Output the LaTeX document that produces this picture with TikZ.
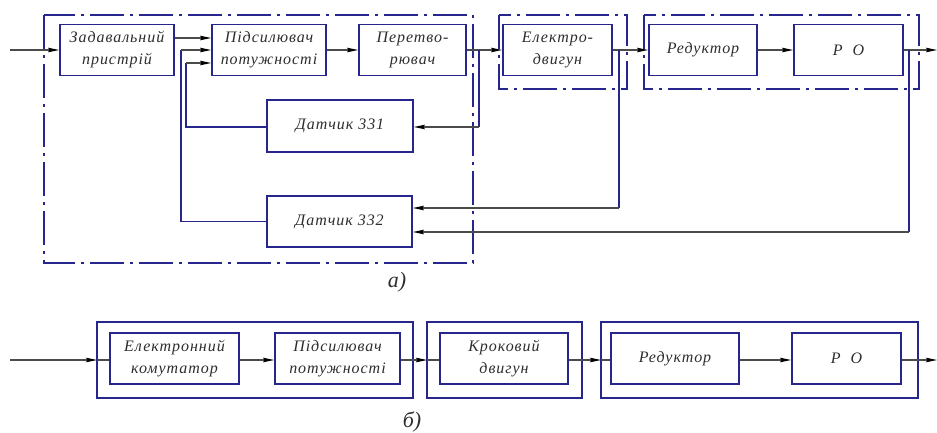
\documentclass[tikz,border=0pt]{standalone}
\usepackage{fontspec}
\setmainfont{Liberation Serif}
\newfontfamily\blockfont[LetterSpace=6]{Liberation Serif}
\usetikzlibrary{arrows.meta}

\definecolor{frame}{RGB}{38,38,140}
\definecolor{wire}{RGB}{75,75,75}
\definecolor{ink}{RGB}{45,45,45}

\tikzset{
  blk/.style={draw=frame, line width=1.8pt, minimum height=51pt, inner sep=0pt,
    align=center, text=ink, font=\blockfont\itshape\fontsize{16}{22}\selectfont},
  grp/.style={draw=frame, line width=2.2pt, dash pattern=on 34pt off 6pt on 3pt off 6pt},
  grpsolid/.style={draw=frame, line width=2.2pt},
  wire/.style={draw=wire, line width=1.1pt},
  fb/.style={draw=frame, line width=1.6pt},
  arr/.style={wire, -{Stealth[length=11pt,width=4.5pt,inset=1.5pt,color=black]}},
  caption/.style={text=ink, font=\itshape\fontsize{22}{22}\selectfont}
}

\begin{document}
\begin{tikzpicture}[x=1pt,y=-1pt]
\useasboundingbox (0,0) rectangle (937,433);

% ---------- scheme a) ----------
\draw[grp] (44,15) rectangle (473,263);
\draw[grp] (499,15) rectangle (627,89);
\draw[grp] (644,15) rectangle (919,89);

\node[blk, minimum width=114pt] (zad) at (117,50) {Задавальний\\пристрій};
\node[blk, minimum width=114pt] (pid) at (269,50) {Підсилювач\\потужності};
\node[blk, minimum width=107pt] (per) at (412.5,50) {Перетво-\\рювач};
\node[blk, minimum width=109pt] (ele) at (557.5,50) {Електро-\\двигун};
\node[blk, minimum width=108pt] (red) at (703,50) {Редуктор};
\node[blk, minimum width=109pt] (po)  at (848.5,50) {Р\hspace{10pt}О};
\node[blk, minimum width=146pt, minimum height=52pt] (d1) at (340,126) {Датчик 331};
\node[blk, minimum width=145pt] (d2) at (339.5,221.5) {Датчик 332};

\coordinate (in)  at (10,50);
\coordinate (out) at (937,50);

% forward chain
\draw[arr] (in) -- (zad.west);
\draw[arr] (zad.east |- 0,38) -- (pid.west |- 0,38);
\draw[arr] (pid.east) -- (per.west);
\draw[arr] (per.east) -- (ele.west);
\draw[arr] (ele.east) -- (red.west);
\draw[arr] (red.east) -- (po.west);
\draw[arr] (po.east) -- (out);

% sensor inputs
\coordinate (t1) at (479,50);
\coordinate (t2) at (619,50);
\coordinate (t3) at (909,50);
\coordinate (c1) at (479,127);
\coordinate (c2) at (619,208);
\coordinate (c3) at (909,232);
\draw[fb] (t1) -- (c1);
\draw[fb] (t2) -- (c2);
\draw[fb] (t3) -- (c3);
\draw[arr] (c1) -- (d1.east |- c1);
\draw[arr] (c2) -- (d2.east |- c2);
\draw[arr] (c3) -- (d2.east |- c3);

% sensor outputs back to the power amplifier
\coordinate (f1) at (186,63);
\coordinate (f2) at (181,50);
\draw[fb] (d1.west |- 0,127) -- (186,127) -- (f1);
\draw[fb] (d2.west) -- (f2 |- d2.west) -- (f2);
\draw[arr] (f1) -- (pid.west |- f1);
\draw[arr] (f2) -- (pid.west |- f2);

\node[caption] (capa) at (397,282) {а)};

% ---------- scheme b) ----------
\draw[grpsolid] (97,322) rectangle (413,398);
\draw[grpsolid] (427,322) rectangle (582,398);
\draw[grpsolid] (601,322) rectangle (918,398);

\node[blk, minimum width=129pt] (kom)  at (174.5,358.5) {Електронний\\комутатор};
\node[blk, minimum width=125pt] (pid2) at (337.5,358.5) {Підсилювач\\потужності};
\node[blk, minimum width=128pt] (kro)  at (504,358.5) {Кроковий\\двигун};
\node[blk, minimum width=128pt] (red2) at (675,358.5) {Редуктор};
\node[blk, minimum width=109pt] (po2)  at (846.5,358.5) {Р\hspace{10pt}О};

\coordinate (inb)  at (10,360);
\coordinate (outb) at (937,360);
\coordinate (e1) at (97,360);
\coordinate (e2) at (427,360);
\coordinate (e3) at (601,360);

\draw[arr] (inb) -- (e1);
\draw[wire] (e1) -- (kom.west |- e1);
\draw[arr] (kom.east |- e1) -- (pid2.west |- e1);
\draw[arr] (pid2.east |- e1) -- (e2);
\draw[wire] (e2) -- (kro.west |- e2);
\draw[arr] (kro.east |- e3) -- (e3);
\draw[wire] (e3) -- (red2.west |- e3);
\draw[arr] (red2.east |- e3) -- (po2.west |- e3);
\draw[arr] (po2.east |- outb) -- (outb);

\node[caption] (capb) at (412,422) {б)};
\end{tikzpicture}
\end{document}
